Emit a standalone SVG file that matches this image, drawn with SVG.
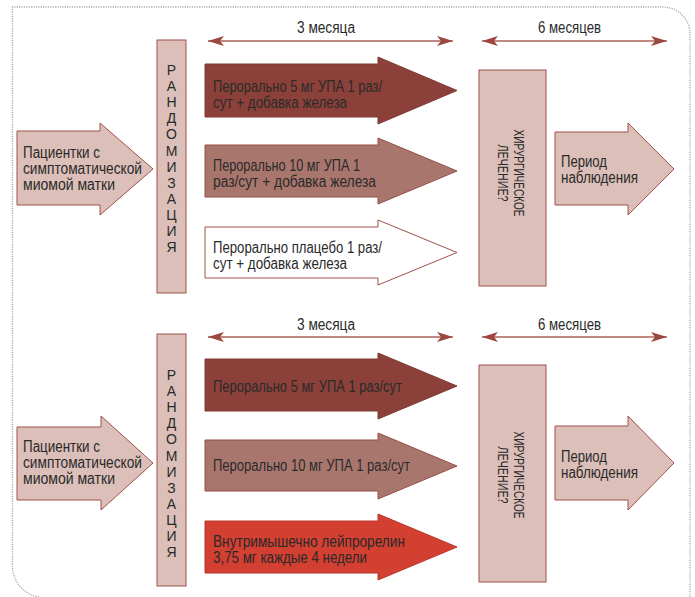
<svg xmlns="http://www.w3.org/2000/svg" width="695" height="597" viewBox="0 0 695 597">
<defs>
<marker id="ah" markerUnits="userSpaceOnUse" viewBox="0 0 16 10" markerWidth="16" markerHeight="10" refX="16" refY="5" orient="auto-start-reverse">
<path d="M0,0 L16,5 L0,10 L4,5 Z" fill="#9b463e"/>
</marker>
</defs>
<style>
text{font-family:"Liberation Sans Narrow","Liberation Sans",Arial,sans-serif;fill:#2a2a2a;font-size:16px}
.rl{font-size:14px;text-anchor:middle}
.sv{font-size:14px}
.light{fill:#dbbfb8;stroke:#a1504a;stroke-width:1}
.dark{fill:#8b4139;stroke:#7e3a33;stroke-width:1}
.mid{fill:#a9766e;stroke:#944f47;stroke-width:1}
.white{fill:#ffffff;stroke:#a1504a;stroke-width:1}
.red{fill:#d33f31;stroke:#b8372b;stroke-width:1}
.span{stroke:#c08a83;stroke-width:2;fill:none;marker-start:url(#ah);marker-end:url(#ah)}
.frame{fill:none;stroke:#a8a8a8;stroke-width:1.3;stroke-dasharray:1.2 1.2}
</style>

<path class="frame" d="M690,597 V34 A27,27 0 0 0 663,7 H12.5 V566 A31,31 0 0 0 40,597"/>

<g id="connectors">
<line class="span" x1="208" y1="41" x2="453" y2="41"/>
<line class="span" x1="482" y1="41" x2="667" y2="41"/>
<line class="span" x1="208" y1="337" x2="453" y2="337"/>
<line class="span" x1="482" y1="337" x2="667" y2="337"/>
</g>

<g id="span-labels">
<text x="297" y="33" textLength="58" lengthAdjust="spacingAndGlyphs">3 месяца</text>
<text x="538" y="33" textLength="63" lengthAdjust="spacingAndGlyphs">6 месяцев</text>
<text x="297" y="330" textLength="58" lengthAdjust="spacingAndGlyphs">3 месяца</text>
<text x="538" y="330" textLength="63" lengthAdjust="spacingAndGlyphs">6 месяцев</text>
</g>

<!-- Top panel -->
<g id="patients-1">
<polygon class="light" points="17,131 100,131 100,123 153,169 100,215 100,205 17,205"/>
<text x="23" y="158" textLength="77" lengthAdjust="spacingAndGlyphs">Пациентки с</text>
<text x="23" y="174" textLength="119" lengthAdjust="spacingAndGlyphs">симптоматической</text>
<text x="23" y="190" textLength="92" lengthAdjust="spacingAndGlyphs">миомой матки</text>
</g>

<g id="randomization-1">
<rect class="light" x="157" y="40" width="29" height="253"/>
<text class="rl" x="171.5" y="75">Р</text>
<text class="rl" x="171.5" y="91.1">А</text>
<text class="rl" x="171.5" y="107.2">Н</text>
<text class="rl" x="171.5" y="123.3">Д</text>
<text class="rl" x="171.5" y="139.4">О</text>
<text class="rl" x="171.5" y="155.5">М</text>
<text class="rl" x="171.5" y="171.6">И</text>
<text class="rl" x="171.5" y="187.7">З</text>
<text class="rl" x="171.5" y="203.8">А</text>
<text class="rl" x="171.5" y="219.9">Ц</text>
<text class="rl" x="171.5" y="236">И</text>
<text class="rl" x="171.5" y="252">Я</text>
</g>

<g id="arm-1a">
<polygon class="dark" points="205,64 378,64 378,57 457,90.5 378,124 378,117 205,117"/>
<text x="213" y="92" textLength="169" lengthAdjust="spacingAndGlyphs">Перорально 5 мг УПА 1 раз/</text>
<text x="213" y="108" textLength="134" lengthAdjust="spacingAndGlyphs">сут + добавка железа</text>
</g>

<g id="arm-1b">
<polygon class="mid" points="205,145 378,145 378,138 457,171 378,204 378,197 205,197"/>
<text x="213" y="171" textLength="147" lengthAdjust="spacingAndGlyphs">Перорально 10 мг УПА 1</text>
<text x="213" y="187" textLength="163" lengthAdjust="spacingAndGlyphs">раз/сут + добавка железа</text>
</g>

<g id="arm-1c">
<polygon class="white" points="205,227 378,227 378,220 457,252.5 378,285 378,278 205,278"/>
<text x="213" y="252.5" textLength="169" lengthAdjust="spacingAndGlyphs">Перорально плацебо 1 раз/</text>
<text x="213" y="268.5" textLength="134" lengthAdjust="spacingAndGlyphs">сут + добавка железа</text>
</g>

<g id="surgery-1">
<rect class="light" x="479" y="70" width="67" height="216"/>
<text class="sv" transform="translate(514,173) rotate(90)" x="-43.5" y="0" textLength="87" lengthAdjust="spacingAndGlyphs">ХИРУРГИЧЕСКОЕ</text>
<text class="sv" transform="translate(498,173) rotate(90)" x="-28.5" y="0" textLength="57" lengthAdjust="spacingAndGlyphs">ЛЕЧЕНИЕ?</text>
</g>

<g id="followup-1">
<polygon class="light" points="555,132 628,132 628,123 674,169 628,215 628,205 555,205"/>
<text x="561" y="167" textLength="46" lengthAdjust="spacingAndGlyphs">Период</text>
<text x="561" y="183" textLength="77" lengthAdjust="spacingAndGlyphs">наблюдения</text>
</g>

<!-- Bottom panel -->
<g id="patients-2">
<polygon class="light" points="17,427 101,427 101,416 153,463 101,510 101,500 17,500"/>
<text x="23" y="452" textLength="77" lengthAdjust="spacingAndGlyphs">Пациентки с</text>
<text x="23" y="468" textLength="119" lengthAdjust="spacingAndGlyphs">симптоматической</text>
<text x="23" y="484" textLength="92" lengthAdjust="spacingAndGlyphs">миомой матки</text>
</g>

<g id="randomization-2">
<rect class="light" x="157" y="334" width="29" height="252"/>
<text class="rl" x="171.5" y="380">Р</text>
<text class="rl" x="171.5" y="396.1">А</text>
<text class="rl" x="171.5" y="412.2">Н</text>
<text class="rl" x="171.5" y="428.3">Д</text>
<text class="rl" x="171.5" y="444.4">О</text>
<text class="rl" x="171.5" y="460.5">М</text>
<text class="rl" x="171.5" y="476.6">И</text>
<text class="rl" x="171.5" y="492.7">З</text>
<text class="rl" x="171.5" y="508.8">А</text>
<text class="rl" x="171.5" y="524.9">Ц</text>
<text class="rl" x="171.5" y="541">И</text>
<text class="rl" x="171.5" y="557">Я</text>
</g>

<g id="arm-2a">
<polygon class="dark" points="205,359 378,359 378,353 457,386 378,419 378,411 205,411"/>
<text x="213" y="392" textLength="189" lengthAdjust="spacingAndGlyphs">Перорально 5 мг УПА 1 раз/сут</text>
</g>

<g id="arm-2b">
<polygon class="mid" points="205,440 378,440 378,433 457,466 378,499 378,491 205,491"/>
<text x="213" y="471" textLength="197" lengthAdjust="spacingAndGlyphs">Перорально 10 мг УПА 1 раз/сут</text>
</g>

<g id="arm-2c">
<polygon class="red" points="205,521 378,521 378,514 457,547 378,580 378,573 205,573"/>
<text x="213" y="547" textLength="192" lengthAdjust="spacingAndGlyphs">Внутримышечно лейпрорелин</text>
<text x="213" y="563" textLength="154" lengthAdjust="spacingAndGlyphs">3,75 мг каждые 4 недели</text>
</g>

<g id="surgery-2">
<rect class="light" x="479" y="365" width="67" height="217"/>
<text class="sv" transform="translate(514,475) rotate(90)" x="-43.5" y="0" textLength="87" lengthAdjust="spacingAndGlyphs">ХИРУРГИЧЕСКОЕ</text>
<text class="sv" transform="translate(498,475) rotate(90)" x="-28.5" y="0" textLength="57" lengthAdjust="spacingAndGlyphs">ЛЕЧЕНИЕ?</text>
</g>

<g id="followup-2">
<polygon class="light" points="555,426 628,426 628,416 674,463 628,510 628,500 555,500"/>
<text x="561" y="462" textLength="46" lengthAdjust="spacingAndGlyphs">Период</text>
<text x="561" y="478" textLength="77" lengthAdjust="spacingAndGlyphs">наблюдения</text>
</g>
</svg>
